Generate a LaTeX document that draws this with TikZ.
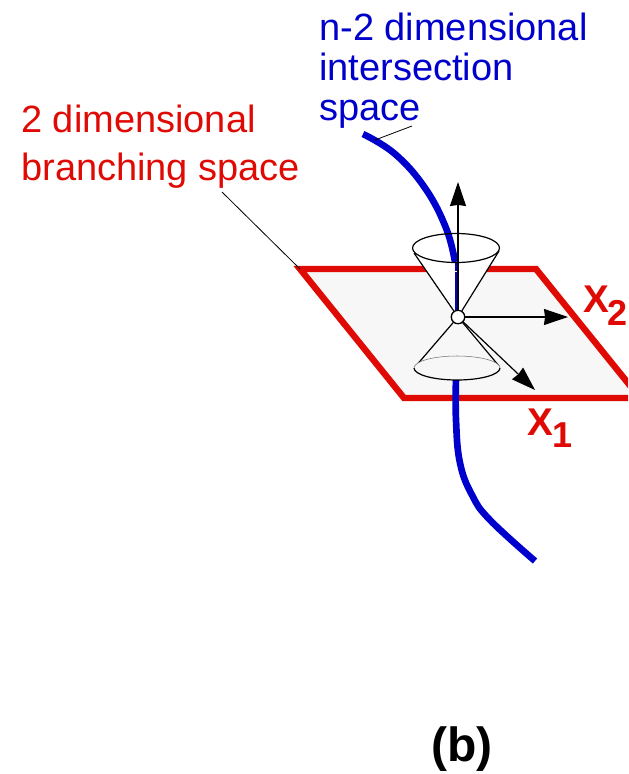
\documentclass[tikz,border=0pt]{standalone}
\usepackage{fontspec}
\setmainfont{Liberation Sans}
\usetikzlibrary{arrows.meta,calc}
\definecolor{branchred}{RGB}{224,10,5}
\definecolor{seamblue}{RGB}{0,0,205}
\definecolor{planegrey}{RGB}{247,247,247}

\begin{document}
\begin{tikzpicture}[x=0.75pt,y=-0.75pt,
    label text/.style={inner sep=0pt,anchor=north west,align=left},
    axis arrow/.style={-{Stealth[length=18pt,width=12pt,inset=0.8pt]},line width=0.9pt},
    cone line/.style={line width=0.9pt},
    leader/.style={line width=0.6pt},
    seam/.style={seamblue,line width=5pt}]
    \clip (0,0) rectangle (628,774);
    % Branching plane
    \coordinate (planeA) at (300,269);
    \coordinate (planeB) at (536,269);
    \coordinate (planeC) at (640,398);
    \coordinate (planeD) at (404,398);
    \fill[planegrey] (planeA)--(planeB)--(planeC)--(planeD)--cycle;
    \draw[branchred,line width=4.8pt,line join=miter] (planeA)--(planeB)--(planeC)--(planeD)--cycle;
    % Cone interiors
    \coordinate (coneTL) at (414,253);
    \coordinate (coneTR) at (499,251);
    \coordinate (coneBL) at (415,367);
    \coordinate (coneBR) at (499,366);
    \node[circle,draw,fill=white,line width=0.9pt,minimum size=10pt,inner sep=0pt] (apex) at (458,317) {};
    \fill[white] (coneTL)--(apex.center)--(coneTR)--cycle;
    \fill[white] (456,248) ellipse [x radius=43.5,y radius=15];
    % Seam above and below the cones
    \draw[seam] plot[smooth,tension=0.7] coordinates
      {(363,134) (395,154) (425,188) (446,228) (455,262)};
    \draw[seam] plot[smooth,tension=0.7] coordinates
      {(456,378) (456,420) (460,463) (472,495) (490,520) (535,561)};
    \draw[seamblue,line width=1.8pt] (456.5,262)--(456.5,312);
    \draw[white,line width=0.7pt] (450,271.5)--(463,271.5);
    % Cones
    \draw[cone line] (456,248) ellipse [x radius=43.5,y radius=14.5];
    \draw[cone line] (coneTL)--(apex) (coneTR)--(apex);
    \draw[cone line] (coneBL)--(apex) (coneBR)--(apex);
    \fill[planegrey] (457,368) ellipse [x radius=43,y radius=12];
    \draw[black!55,line width=0.4pt] (414,368) arc [start angle=180,end angle=0,x radius=43,y radius=-12];
    \draw[cone line] (414,368) arc [start angle=180,end angle=360,x radius=43,y radius=-12];
    \node[circle,draw,fill=white,line width=0.9pt,minimum size=10pt,inner sep=0pt] at (apex) {};
    % Axes
    \coordinate (axisUp) at (458,182);
    \coordinate (axisRight) at (568,317);
    \coordinate (axisDown) at (535,390);
    \draw[axis arrow] (apex)--(axisUp);
    \draw[axis arrow] (apex)--(axisRight);
    \draw[axis arrow] (apex)--(axisDown);
    % Labels
    \node[label text,seamblue,font=\fontsize{28.5pt}{30pt}\selectfont] (seamlabel) at (319,13)
      {n-2 dimensional\\intersection\\space};
    \node[label text,branchred,font=\fontsize{28.5pt}{36pt}\selectfont] (branchlabel) at (21,105)
      {2 dimensional\\branching space};
    \node[branchred,inner sep=0pt,anchor=base west,font=\fontsize{29pt}{29pt}\bfseries] (xone) at (527,435) {X};
    \node[branchred,inner sep=0pt,anchor=base west,font=\fontsize{27pt}{27pt}\bfseries] (xonesub) at (552,447) {1};
    \node[branchred,inner sep=0pt,anchor=base west,font=\fontsize{29pt}{29pt}\bfseries] (xtwo) at (583,312) {X};
    \node[branchred,inner sep=0pt,anchor=base west,font=\fontsize{27pt}{27pt}\bfseries] (xtwosub) at (607,325) {2};
    \node[inner sep=0pt,anchor=base,font=\fontsize{36pt}{36pt}\bfseries] (panel) at (462,761) {(b)};
    % Leader lines
    \coordinate (seamtip) at (375,140);
    \draw[leader] (412,126)--(seamtip);
    \draw[leader] (222,192)--(planeA);
\end{tikzpicture}
\end{document}
